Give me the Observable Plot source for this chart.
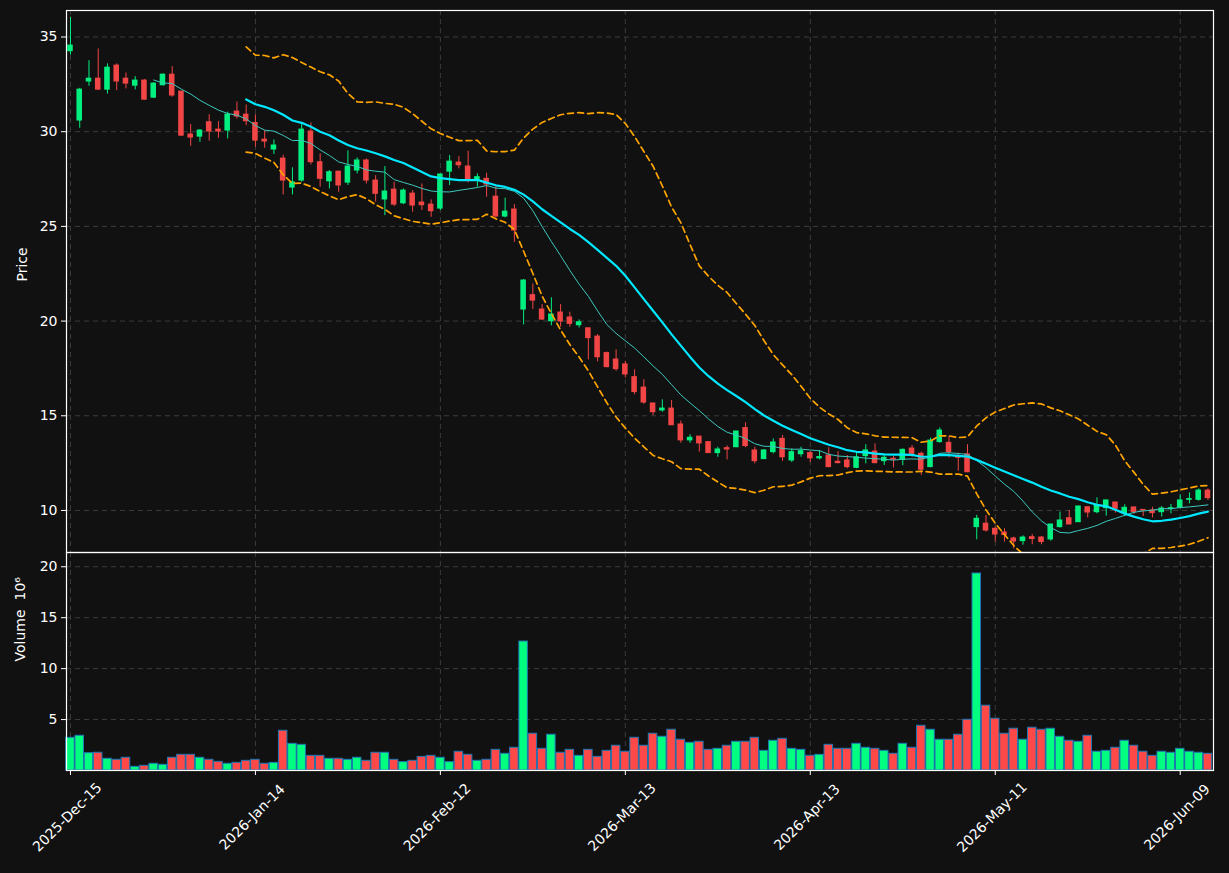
<!DOCTYPE html>
<html><head><meta charset="utf-8">
<script src="https://cdn.jsdelivr.net/npm/d3@7"></script>
<script src="https://cdn.jsdelivr.net/npm/@observablehq/plot@0.6"></script>
<style>
html,body{margin:0;padding:0;background:#111111;}
#chart{position:relative;width:1229px;height:873px;background:#111111;overflow:hidden;}
#chart svg{display:block;}
</style></head><body><div id="chart"></div>
<script>
const opens=[34.25,30.59,32.65,32.80,32.22,33.49,32.80,32.43,32.70,31.80,32.45,33.01,32.12,29.85,29.74,30.50,30.11,30.06,31.06,30.90,
30.46,29.58,29.06,28.58,27.05,27.42,30.01,28.39,27.38,27.89,27.31,27.95,28.48,27.42,26.42,26.94,26.22,26.73,26.26,26.15,
25.94,27.89,28.37,28.16,27.48,27.51,26.57,25.52,25.89,20.61,21.37,20.61,19.99,20.45,20.19,19.78,19.62,19.18,18.31,17.97,
17.71,17.04,16.49,15.65,15.28,15.38,14.54,13.70,13.90,13.61,13.03,13.29,13.34,14.35,13.17,12.71,13.08,13.78,12.64,12.97,
13.03,12.75,12.90,12.57,12.64,12.25,12.87,13.11,12.60,12.73,12.67,13.27,12.99,12.29,13.61,13.57,12.85,12.96,9.12,9.30,
9.03,8.84,8.52,8.38,8.59,8.57,8.47,9.12,9.59,9.38,10.17,9.91,10.12,10.42,9.86,10.16,10.03,10.00,9.91,10.07,
10.14,10.56,10.56,11.05];
const highs=[36.04,32.29,33.75,34.37,33.58,33.58,33.10,32.91,32.75,32.58,33.05,33.44,32.12,30.38,30.11,30.90,30.53,31.03,31.57,31.41,
30.89,30.06,29.57,28.76,28.09,30.39,30.46,28.83,27.95,27.89,28.99,28.62,28.56,27.68,28.16,27.33,26.98,26.89,27.24,26.40,
27.77,28.74,28.69,28.97,27.77,27.81,27.10,26.49,26.15,22.19,21.96,20.87,21.23,20.87,20.47,20.06,19.62,19.29,18.36,18.48,
17.87,17.43,16.90,15.65,15.84,15.81,14.72,14.00,13.90,13.61,13.34,13.41,14.17,14.63,13.34,13.20,13.78,13.96,13.26,13.34,
13.11,13.17,13.31,13.11,12.90,13.08,13.47,13.52,12.95,12.85,13.25,13.43,13.08,13.82,14.36,13.91,13.03,13.47,9.74,9.74,
9.12,9.03,8.59,8.66,8.73,8.63,9.26,9.91,10.00,10.21,10.17,10.67,10.53,10.42,10.30,10.16,10.03,10.17,10.21,10.32,
10.83,10.93,11.14,11.14];
const lows=[34.05,30.18,32.40,32.17,31.99,32.17,32.26,32.21,31.67,31.75,32.43,31.82,29.76,29.23,29.44,29.50,29.65,29.62,30.67,30.32,
29.18,29.13,28.79,26.66,26.66,27.33,28.25,27.07,26.98,26.80,27.16,27.77,27.24,26.28,25.57,26.05,26.15,25.75,25.84,25.48,
25.84,27.16,28.04,27.30,27.07,26.54,25.45,25.45,24.16,19.80,20.61,20.03,19.75,19.68,19.68,19.64,17.95,17.85,17.53,17.35,
16.99,16.11,15.60,15.01,15.19,14.50,13.55,13.55,13.08,13.03,12.81,12.67,13.31,13.31,12.46,12.69,12.99,12.59,12.53,12.81,
12.53,12.67,12.25,12.46,12.20,12.20,12.46,12.46,12.38,12.25,12.36,12.81,11.85,12.25,13.55,12.78,12.07,11.99,8.45,8.86,
8.33,8.33,7.97,8.17,8.19,8.19,8.38,9.07,9.26,9.38,9.61,9.82,9.70,9.86,9.68,9.79,9.68,9.61,9.65,9.82,
10.09,10.35,10.49,10.53];
const closes=[34.55,32.22,32.80,32.22,33.38,32.65,32.54,32.70,31.69,32.54,33.01,31.91,29.79,29.69,30.06,30.01,30.01,30.90,30.80,30.55,
29.53,29.48,29.27,27.42,27.33,30.11,28.39,27.51,27.86,27.16,28.16,28.48,27.42,26.72,26.84,26.15,26.89,26.10,26.12,25.80,
27.74,28.42,28.23,27.47,27.60,27.21,25.52,25.78,24.78,22.14,21.08,20.08,20.35,19.98,19.85,19.94,19.10,18.09,17.57,17.46,
17.18,16.25,15.70,15.19,15.38,14.50,13.70,13.84,13.54,13.03,13.22,13.22,14.17,13.40,12.60,13.17,13.59,12.81,13.08,13.13,
12.75,12.82,12.29,12.50,12.29,12.81,13.17,12.50,12.78,12.68,13.20,12.99,12.15,13.69,14.22,13.08,12.78,12.02,9.56,8.94,
8.73,8.70,8.36,8.57,8.49,8.33,9.26,9.47,9.26,10.21,9.89,10.26,10.53,10.09,10.14,9.91,10.00,9.86,10.10,10.12,
10.53,10.60,11.05,10.65];
const volumes=[3.21,3.41,1.70,1.74,1.15,1.05,1.25,0.36,0.46,0.66,0.56,1.25,1.54,1.54,1.25,1.05,0.85,0.66,0.75,0.95,
1.05,0.66,0.75,3.90,2.62,2.52,1.44,1.44,1.15,1.15,1.05,1.25,0.95,1.74,1.74,1.05,0.82,0.95,1.34,1.44,
1.25,0.82,1.84,1.54,0.95,1.05,2.03,1.64,2.23,12.66,3.61,2.13,3.51,1.74,2.03,1.44,2.03,1.34,1.93,2.43,
1.84,3.21,2.43,3.61,3.31,4.00,3.02,2.72,2.82,2.03,2.13,2.43,2.82,2.82,3.21,1.93,2.92,3.11,2.13,2.03,
1.44,1.54,2.52,2.13,2.13,2.62,2.23,2.13,1.93,1.64,2.62,2.23,4.39,4.00,3.02,3.02,3.51,4.98,19.34,6.36,
5.08,3.61,4.10,3.02,4.20,4.00,4.10,3.31,2.92,2.82,3.41,1.84,1.93,2.23,2.92,2.43,1.84,1.44,1.84,1.74,
2.13,1.84,1.74,1.64];
const tickIndex=[0,20,40,60,80,100,120];
const tickLabels=["2025-Dec-15","2026-Jan-14","2026-Feb-12","2026-Mar-13","2026-Apr-13","2026-May-11","2026-Jun-09"];
const priceTicks=[10,15,20,25,30,35];
const volumeTicks=[5,10,15,20];

const UP="#00f080", DOWN="#f24545", VUP="#00ff80", VDOWN="#ff4848";
const data=closes.map((c,i)=>({i,open:opens[i],high:highs[i],low:lows[i],close:c,volume:volumes[i],up:c>=opens[i]}));
const xDomain=[-0.43,123.6];
const grid={stroke:"#3c3c3c",strokeOpacity:1,strokeDasharray:"5,4",strokeWidth:1};
const style={background:"#111111",color:"#ffffff",fontFamily:"'DejaVu Sans', sans-serif",fontSize:"14px",overflow:"visible"};

const price=Plot.plot({
  width:1229,height:552,marginTop:10,marginBottom:0,marginLeft:66,marginRight:16,
  style,
  x:{domain:xDomain,axis:null},
  y:{domain:[7.78,36.4],axis:null},
  marks:[
    Plot.gridX(tickIndex,grid),
    Plot.gridY(priceTicks,grid),
    Plot.ruleX(data,{x:"i",y1:"low",y2:"high",stroke:d=>d.up?UP:DOWN,strokeWidth:1,clip:true}),
    Plot.rect(data,{x1:d=>d.i-0.3,x2:d=>d.i+0.3,y1:"open",y2:"close",fill:d=>d.up?UP:DOWN,insetTop:-0.5,insetBottom:-0.5,clip:true}),
    Plot.lineY(data,Plot.windowY({k:10,anchor:"end",strict:true},{x:"i",y:"close",stroke:"#3cc9bf",strokeWidth:1,clip:true})),
    Plot.lineY(data,Plot.windowY({k:20,anchor:"end",strict:true},{x:"i",y:"close",stroke:"#00e8ff",strokeWidth:2.2,clip:true})),
    Plot.lineY(data,Plot.windowY({k:20,anchor:"end",strict:true,reduce:v=>d3.mean(v)+2*d3.deviation(v)},{x:"i",y:"close",stroke:"#ffa500",strokeWidth:1.7,strokeDasharray:"6,4",clip:true})),
    Plot.lineY(data,Plot.windowY({k:20,anchor:"end",strict:true,reduce:v=>d3.mean(v)-2*d3.deviation(v)},{x:"i",y:"close",stroke:"#ffa500",strokeWidth:1.7,strokeDasharray:"6,4",clip:true})),
    Plot.axisY({ticks:priceTicks,tickSize:5,tickPadding:4,label:null}),
    Plot.frame({stroke:"#ffffff",strokeWidth:1.2}),
    Plot.text(["Price"],{frameAnchor:"left",dx:-44,rotate:-90,fill:"#ffffff",fontSize:14})
  ]
});

const volume=Plot.plot({
  width:1229,height:321,marginTop:0,marginBottom:103,marginLeft:66,marginRight:16,
  style,
  x:{domain:xDomain,axis:null},
  y:{domain:[0,21.4],axis:null},
  marks:[
    Plot.gridX(tickIndex,grid),
    Plot.gridY(volumeTicks,grid),
    Plot.rect(data,{x1:d=>d.i-0.46,x2:d=>d.i+0.46,y1:0,y2:"volume",fill:d=>d.up?VUP:VDOWN,stroke:"#1f77b4",strokeWidth:1}),
    Plot.axisY({ticks:volumeTicks,tickSize:5,tickPadding:4,label:null}),
    Plot.axisX({ticks:tickIndex,tickSize:5,tickFormat:()=>"",label:null}),
    Plot.text(tickIndex,{x:d=>d,text:(d,j)=>tickLabels[j],frameAnchor:"bottom",dy:50,rotate:-45,textAnchor:"middle",fill:"#ffffff",fontSize:14}),
    Plot.frame({stroke:"#ffffff",strokeWidth:1.2}),
    Plot.text(["Volume  10⁶"],{frameAnchor:"left",dx:-46,rotate:-90,fill:"#ffffff",fontSize:14})
  ]
});

const chart=document.getElementById("chart");
chart.appendChild(price);
chart.appendChild(volume);
</script></body></html>
